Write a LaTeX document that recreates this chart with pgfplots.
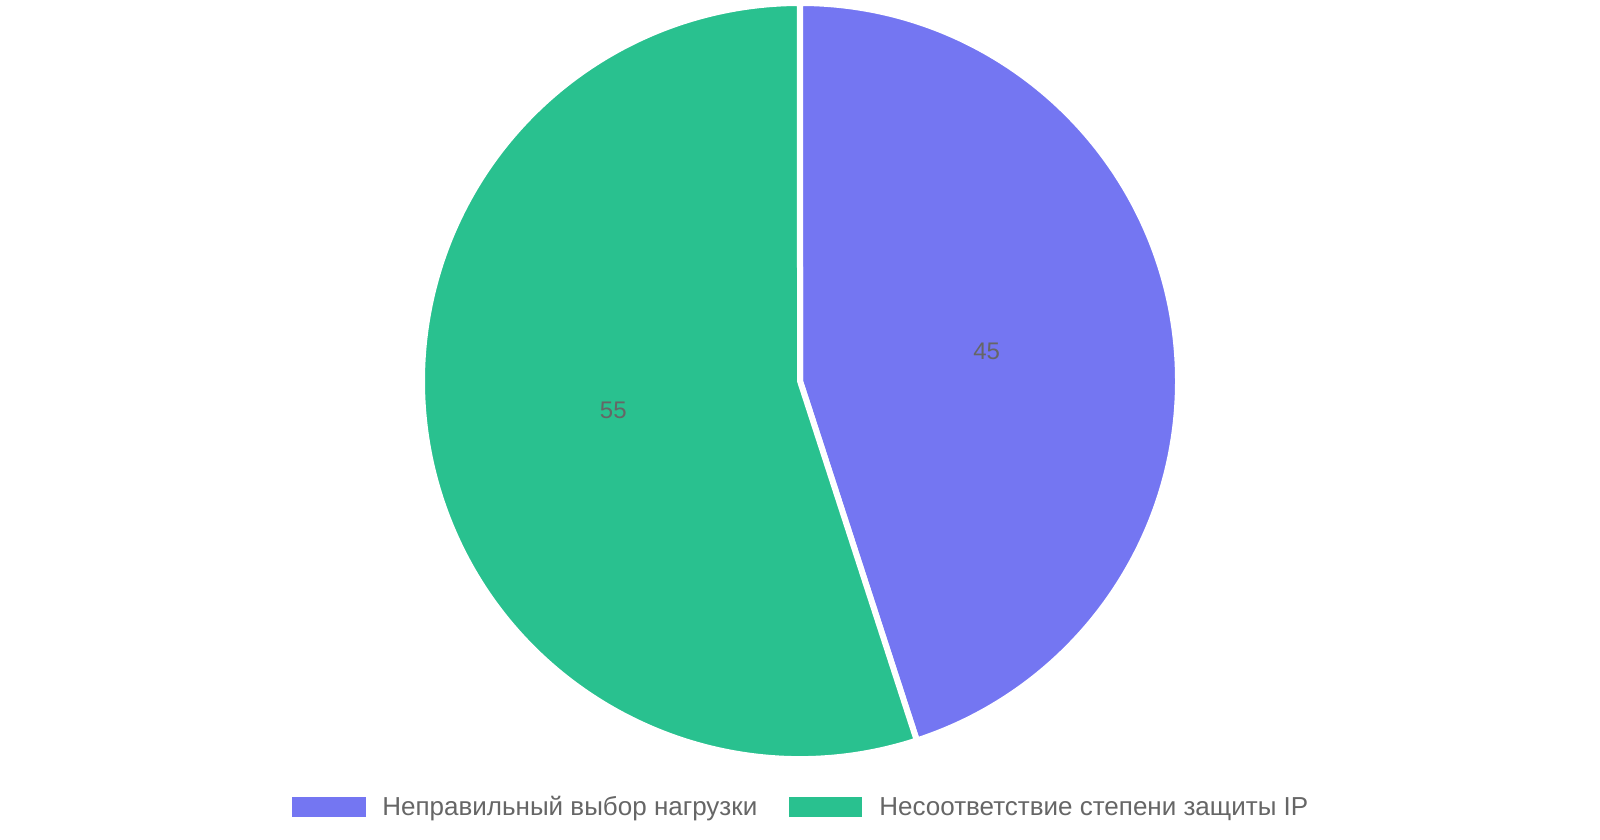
\documentclass[border=0pt]{standalone}
\usepackage{pgfplots}
\pgfplotsset{compat=1.18}
\usepackage{pgfplotstable}
\usepackage{fontspec}
\setmainfont{Liberation Sans}
\definecolor{cA}{HTML}{7476F2}
\definecolor{cB}{HTML}{29C18F}
\definecolor{txt}{HTML}{666666}
\pgfplotstableread{
label value
A 45
B 55
}\piedata
\begin{document}
\begin{tikzpicture}[x=1pt,y=1pt]
\path[use as bounding box] (0,0) rectangle (800,420);
\pgfplotstablegetelem{0}{value}\of\piedata \let\vA\pgfplotsretval
\pgfplotstablegetelem{1}{value}\of\piedata \let\vB\pgfplotsretval
\pgfmathsetmacro{\tot}{\vA+\vB}
\pgfmathsetmacro{\fA}{\vA/\tot}
\pgfmathsetmacro{\fB}{\vB/\tot}
\pgfmathsetmacro{\aA}{90-360*\fA}
\pgfmathsetmacro{\aB}{\aA-360*\fB}
\pgfmathsetmacro{\mA}{(90+\aA)/2}
\pgfmathsetmacro{\mB}{(\aA+\aB)/2}
\begin{axis}[at={(400pt,229.5pt)}, anchor=origin, x=189pt, y=189pt,
  xmin=-1, xmax=1, ymin=-1, ymax=1, hide axis, clip=false]
\fill[cA, draw=white, line width=3pt, line join=round] (axis cs:0,0) -- (axis cs:0,1) arc[start angle=90, end angle=\aA, radius=189pt] -- cycle;
\fill[cB, draw=white, line width=3pt, line join=round] (axis cs:0,0) -- (axis cs:{cos(\aA)},{sin(\aA)}) arc[start angle=\aA, end angle=\aB, radius=189pt] -- cycle;
\node[text=txt, font=\fontsize{12pt}{14pt}\selectfont] at (axis cs:{0.5*cos(\mA)},{0.5*sin(\mA)}) {\vA};
\node[text=txt, font=\fontsize{12pt}{14pt}\selectfont] at (axis cs:{0.5*cos(\mB)},{0.5*sin(\mB)}) {\vB};
\end{axis}
\fill[cA] (146,11.5) rectangle (183,21.5);
\node[anchor=west, inner sep=0pt, text=txt, font=\fontsize{13pt}{15pt}\selectfont] at (191,15.5) {Неправильный выбор нагрузки};
\fill[cB] (394.5,11.5) rectangle (431,21.5);
\node[anchor=west, inner sep=0pt, text=txt, font=\fontsize{13pt}{15pt}\selectfont] at (439.5,15.5) {Несоответствие степени защиты IP};
\end{tikzpicture}
\end{document}
